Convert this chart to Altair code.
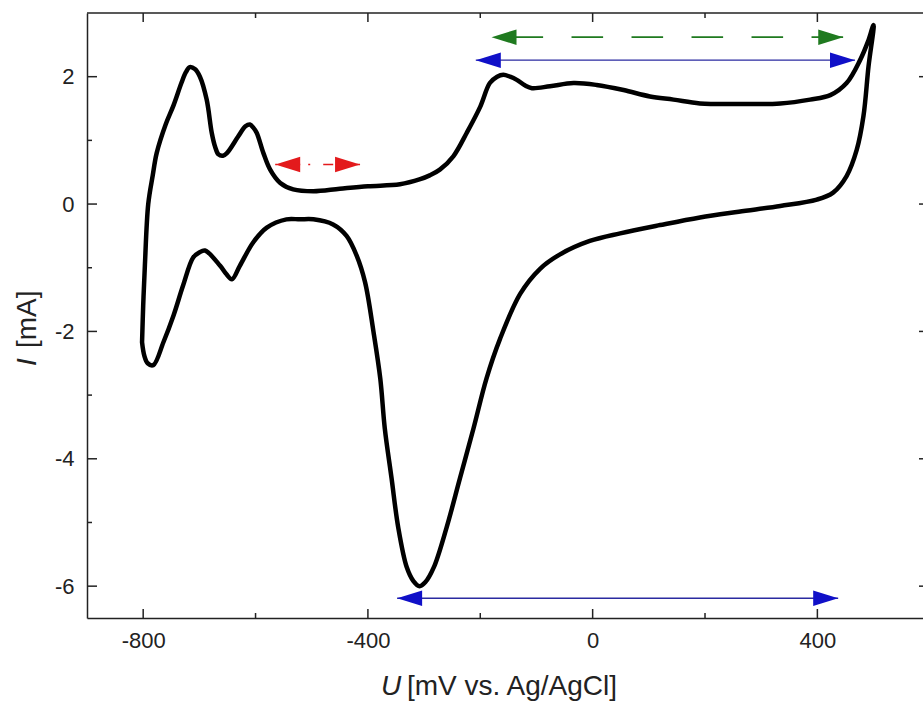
import altair as alt
import pandas as pd

# ---- cyclic voltammogram, points in sweep order (anodic, then cathodic) ----
U_mV = [
    -802, -800, -797, -791, -783, -776, -760, -746, -732, -724, -717, -708, -699, -687,
    -678, -672, -666, -658, -651, -631, -618, -610, -604, -598, -586, -574, -556, -533,
    -497, -450, -400, -343, -307, -290, -272, -248, -224, -200, -183, -170, -159, -147,
    -135, -120, -108, -76, -34, 7, 55, 102, 144, 191, 260, 334, 387, 423, 452, 476, 490, 500,
    491, 482, 470, 452, 428, 399, 334, 260, 191, 120, 49, -5, -58, -94, -129, -165,
    -189, -212, -236, -260, -283, -298, -308, -319, -331, -346, -358, -370, -378, -390,
    -405, -420, -438, -462, -497, -521, -545, -580, -604, -628, -642, -652, -663, -690,
    -700, -711, -729, -746, -764, -782, -792, -798, -802,
]
I_mA = [
    -2.17, -1.6, -0.97, 0.0, 0.45, 0.8, 1.25, 1.55, 1.9, 2.07, 2.15, 2.12, 2.0, 1.64,
    1.12, 0.9, 0.78, 0.76, 0.80, 1.06, 1.22, 1.25, 1.2, 1.12, 0.80, 0.54, 0.33, 0.23,
    0.20, 0.24, 0.28, 0.31, 0.39, 0.45, 0.54, 0.75, 1.12, 1.53, 1.90, 2.0, 2.03, 2.0,
    1.95, 1.86, 1.82, 1.85, 1.90, 1.87, 1.79, 1.69, 1.64, 1.58, 1.57, 1.58, 1.64, 1.71, 1.90, 2.26, 2.55, 2.81,
    2.16, 1.38, 0.85, 0.44, 0.18, 0.07, -0.03, -0.12, -0.21, -0.33, -0.46, -0.58, -0.79, -1.02, -1.41, -2.12,
    -2.74, -3.52, -4.30, -5.08, -5.71, -5.94, -6.0, -5.92, -5.70, -5.08, -4.30, -3.52, -2.74, -2.01,
    -1.23, -0.81, -0.50, -0.32, -0.24, -0.24, -0.24, -0.37, -0.60, -0.97, -1.18, -1.10, -0.97, -0.73,
    -0.76, -0.84, -1.28, -1.75, -2.17, -2.53, -2.50, -2.38, -2.17,
]

# ---- axis ticks ----
x_major = [-800, -400, 0, 400]
x_minor = [-600, -200, 200]
y_major = [-6, -4, -2, 0, 2]
y_minor = [-5, -3, -1, 1]

# ---- double-headed arrows ----
arrow_color = ["#e31a1c", "#1f7a1f", "#1010c8", "#1010c8"]
arrow_left = [-565, -180, -208, -348]
arrow_right = [-414, 446, 467, 437]
arrow_I = [0.62, 2.62, 2.26, -6.19]

# ---- titles ----
x_title_var, x_title_unit = "U", "[mV vs. Ag/AgCl]"
y_title_var, y_title_unit = "I", "[mA]"

W, H = 836, 605
FONT = "Liberation Sans"
INK = "#222222"

xs = alt.Scale(domain=[-900, 588], nice=False, zero=False)
ys = alt.Scale(domain=[-6.5, 3], nice=False, zero=False)

LABEL_EXPR = "'' + datum.value"

x_axis = alt.Axis(values=x_major, ticks=False, grid=False, domain=True, domainColor=INK,
                  domainWidth=1.5, labelFontSize=22, labelPadding=12, labelColor=INK,
                  labelFont=FONT, title=None, labelExpr=LABEL_EXPR)
y_axis = alt.Axis(values=y_major, ticks=False, grid=False, domain=True, domainColor=INK,
                  domainWidth=1.5, labelFontSize=22, labelPadding=13, labelColor=INK,
                  labelFont=FONT, title=None, labelExpr=LABEL_EXPR)

curve_df = pd.DataFrame({"U": U_mV, "I": I_mA, "k": list(range(len(U_mV)))})

curve = alt.Chart(curve_df).mark_line(
    color="black", strokeWidth=4.5, interpolate="catmull-rom", strokeJoin="round", strokeCap="round"
).encode(
    x=alt.X("U:Q", scale=xs, axis=x_axis),
    y=alt.Y("I:Q", scale=ys, axis=y_axis),
    order="k:Q",
)

def xticks(vals, y0, y1):
    return alt.Chart(pd.DataFrame({"U": vals})).mark_rule(color=INK, strokeWidth=1.5).encode(
        x=alt.X("U:Q", scale=xs, axis=x_axis), y=alt.value(y0), y2=alt.value(y1))

def yticks(vals, x0, x1):
    return alt.Chart(pd.DataFrame({"I": vals})).mark_rule(color=INK, strokeWidth=1.5).encode(
        y=alt.Y("I:Q", scale=ys, axis=y_axis), x=alt.value(x0), x2=alt.value(x1))

tick_layers = [
    xticks(x_major, H, H - 9), xticks(x_minor, H, H - 5),
    xticks(x_major, 0, 9), xticks(x_minor, 0, 5),
    yticks(y_major, 0, 10), yticks(y_minor, 0, 5),
    yticks(y_major, W - 4, W + 6), yticks(y_minor, W + 1, W + 6),
]

top_frame = alt.Chart(pd.DataFrame({"a": [0]})).mark_rule(color=INK, strokeWidth=1.5).encode(
    x=alt.value(0), x2=alt.value(W + 6), y=alt.value(0), y2=alt.value(0))

arrows_df = pd.DataFrame({"Ul": arrow_left, "Ur": arrow_right, "I": arrow_I, "c": arrow_color})

line_styles = [
    dict(strokeWidth=1.6, strokeDash=[10, 8, 2, 13], strokeDashOffset=18),
    dict(strokeWidth=1.8, strokeDash=[31.6, 28.4], strokeDashOffset=40),
    dict(strokeWidth=1.4),
    dict(strokeWidth=1.4),
]
line_colors = ["#e31a1c", "#1f7a1f", "#2a2aa0", "#2a2aa0"]

arrow_layers = []
for i in range(len(arrow_left)):
    d = arrows_df.iloc[[i]]
    arrow_layers.append(
        alt.Chart(d).mark_rule(color=line_colors[i], **line_styles[i]).encode(
            x=alt.X("Ul:Q", scale=xs, axis=x_axis), x2="Ur:Q",
            y=alt.Y("I:Q", scale=ys, axis=y_axis))
    )
    arrow_layers.append(
        alt.Chart(d).mark_point(shape="M0,0 L2,-0.62 L2,0.62 Z", size=625, filled=True,
                                opacity=1, strokeWidth=0, color=arrow_color[i]).encode(
            x=alt.X("Ul:Q", scale=xs, axis=x_axis), y=alt.Y("I:Q", scale=ys, axis=y_axis))
    )
    arrow_layers.append(
        alt.Chart(d).mark_point(shape="M0,0 L-2,-0.62 L-2,0.62 Z", size=625, filled=True,
                                opacity=1, strokeWidth=0, color=arrow_color[i]).encode(
            x=alt.X("Ur:Q", scale=xs, axis=x_axis), y=alt.Y("I:Q", scale=ys, axis=y_axis))
    )

def label(txt, x, y, italic=False, angle=0, size=28):
    return alt.Chart(pd.DataFrame({"t": [txt]})).mark_text(
        font=FONT, fontSize=size, color=INK, align="left", baseline="alphabetic",
        fontStyle="italic" if italic else "normal", angle=angle
    ).encode(text="t:N", x=alt.value(x), y=alt.value(y))

titles = [
    label(x_title_var, 294, 682, italic=True),
    label(x_title_unit, 320, 682),
    label(y_title_var, -51, 353, italic=True, angle=270),
    label(y_title_unit, -51, 335, angle=270),
]

chart = alt.layer(*tick_layers, top_frame, *arrow_layers, curve, *titles).properties(
    width=W, height=H,
    autosize=alt.AutoSizeParams(type="none"),
    padding={"left": 87, "top": 13, "right": 0, "bottom": 84},
    background="white",
).configure_view(stroke=None)

chart.save("out.html", embed_options={"renderer": "svg", "actions": False})
